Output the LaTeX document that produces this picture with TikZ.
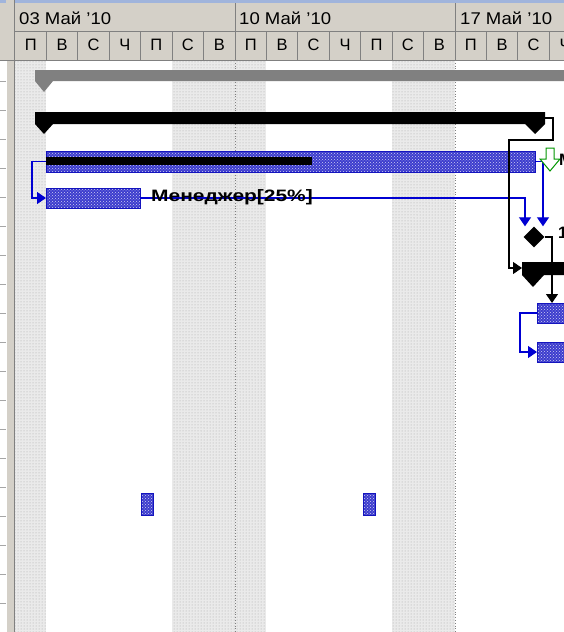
\documentclass[tikz,border=0pt]{standalone}
\usepackage{fontspec}
\setmainfont{Liberation Sans}
\usetikzlibrary{patterns,arrows.meta,shapes.geometric}
\definecolor{hdr}{RGB}{212,208,200}
\definecolor{hdrline}{RGB}{128,128,128}
\definecolor{barline}{RGB}{20,20,190}
\definecolor{barfill}{RGB}{60,60,205}
\definecolor{linkblue}{RGB}{0,0,210}
\definecolor{topblue}{RGB}{160,180,220}
\definecolor{sumgray}{RGB}{128,128,128}
\definecolor{flaggreen}{RGB}{0,150,0}
\definecolor{shadefill}{RGB}{234,234,234}
\definecolor{shadedot}{RGB}{165,165,165}
\tikzset{
  hdrtext/.style={font=\fontsize{17}{20}\selectfont, inner sep=0pt},
  daytext/.style={font=\fontsize{16.5}{20}\selectfont, inner sep=0pt},
  taskbar/.style={rectangle, draw=barline, line width=1pt, preaction={fill=barfill}, pattern=crosshatch dots, pattern color=white!75!barfill, inner sep=0pt, outer sep=0pt, anchor=north west},
  progbar/.style={rectangle, fill=black, inner sep=0pt, outer sep=0pt, anchor=north west},
  bluelink/.style={draw=linkblue, line width=1.2pt, -{Triangle[width=12pt,length=9pt]}},
  blacklink/.style={draw=black, line width=1.2pt, -{Triangle[width=12pt,length=9pt]}},
  weekend/.style={preaction={fill=shadefill}, pattern=dots, pattern color=shadedot},
  gridline/.style={draw=hdrline, line width=0.8pt},
  boldlbl/.style={font=\bfseries\fontsize{16.5}{19}\selectfont, anchor=west, inner sep=0pt},
}
\begin{document}
\begin{tikzpicture}[x=1pt,y=-1pt]
\useasboundingbox (0,0) rectangle (564,632);
\begin{scope}
\clip (0,0) rectangle (564,632);
% background
\fill[white] (0,0) rectangle (564,632);
% header
\fill[hdr] (0,0) rectangle (564,60);
\fill[topblue] (0,0) rectangle (564,2.5);
% splitter
\fill[hdr] (6,0) rectangle (14,632);
\draw[white, line width=0.8pt] (6.5,60) -- (6.5,632);
\draw[hdrline, line width=0.8pt] (14.5,0) -- (14.5,632);
% left table ticks
\foreach \yy in {81,110,...,632} \draw[hdrline!70, line width=0.8pt] (0,\yy) -- (6,\yy);
% non-working days
\path[weekend] (15,60) rectangle (46.4,632);
\path[weekend] (172.1,60) rectangle (266.4,632);
\path[weekend] (392.1,60) rectangle (455,632);
% week separators in chart
\draw[hdrline, dotted, line width=0.8pt] (235,60) -- (235,632);
\draw[hdrline, dotted, line width=0.8pt] (455,60) -- (455,632);
% header grid
\draw[gridline] (15,31) -- (564,31);
\draw[gridline] (0,60) -- (564,60);
\foreach \k in {1,...,17} \draw[gridline] ({15+31.43*\k},31) -- ({15+31.43*\k},60);
\foreach \xx in {235,455} \draw[gridline] (\xx,3) -- (\xx,60);
% header texts
\node[hdrtext, anchor=west] (wk1) at (19,18) {\scalebox{1.09}[1]{03 Май '10}};
\node[hdrtext, anchor=west] (wk2) at (239,18) {\scalebox{1.09}[1]{10 Май '10}};
\node[hdrtext, anchor=west] (wk3) at (460,18) {\scalebox{1.09}[1]{17 Май '10}};
\foreach [count=\k from 0] \dl in {П,В,С,Ч,П,С,В,П,В,С,Ч,П,С,В,П,В,С,Ч}
  \node[daytext] (day\k) at ({15+31.43*\k+15.7},45) {\dl};
% summary bars
\fill[sumgray] (35,70) -- (575,70) -- (575,81) -- (53,81) -- (44,92) -- (35,81) -- cycle;
\fill[black] (35,112) -- (545,112) -- (545,124) -- (535,134) -- (525,124) -- (53,124) -- (44,134) -- (35,124) -- cycle;
\coordinate (s1e) at (545,118);
\fill[black] (522,262) -- (575,262) -- (575,275) -- (544,275) -- (533,287) -- (522,275) -- cycle;
\coordinate (s2w) at (522,268);
\coordinate (c1) at (509,140);
% tasks
\node[taskbar, minimum width=489pt, minimum height=21pt] (t1) at (46,151) {};
\node[progbar, minimum width=266pt, minimum height=8pt] (p1) at (46,157) {};
\node[taskbar, minimum width=94pt, minimum height=20pt] (t2) at (46,188) {};
\node[diamond, fill=black, inner sep=0pt, minimum width=21pt, minimum height=21pt] (ms) at (534,237) {};
\node[taskbar, minimum width=40pt, minimum height=20pt] (t3) at (537,303) {};
\node[taskbar, minimum width=40pt, minimum height=20pt] (t4) at (537,342) {};
\node[taskbar, minimum width=12pt, minimum height=22pt] (m1) at (141,493) {};
\node[taskbar, minimum width=12pt, minimum height=22pt] (m2) at (363,493) {};
% links
\draw[bluelink] (t1.west) -- ++(-14,0) |- (t2.west);
\draw[bluelink] (t2.east) -| ([xshift=-9pt]ms.north);
\draw[bluelink] (t1.east) -| ([xshift=9pt]ms.north);
\draw[blacklink] (s1e) -- ++(8,0) |- (c1) |- (s2w);
\draw[blacklink] (ms.east) -| ([xshift=-5pt]t3.north);
\draw[bluelink] (t3.west) -- ++(-17,0) |- (t4.west);
% labels
\node[boldlbl] (lbl) at (151,197) {\scalebox{1.27}[1]{Менеджер[25\%]}};
\draw[flaggreen, line width=1pt, fill=white] (546,148) -- (554,148) -- (554,159) -- (560,159) -- (550,171) -- (540,159) -- (546,159) -- cycle;
\node[boldlbl] (cut1) at (559,160) {М};
\node[boldlbl] (cut2) at (558,233) {1};
\end{scope}
\end{tikzpicture}
\end{document}
